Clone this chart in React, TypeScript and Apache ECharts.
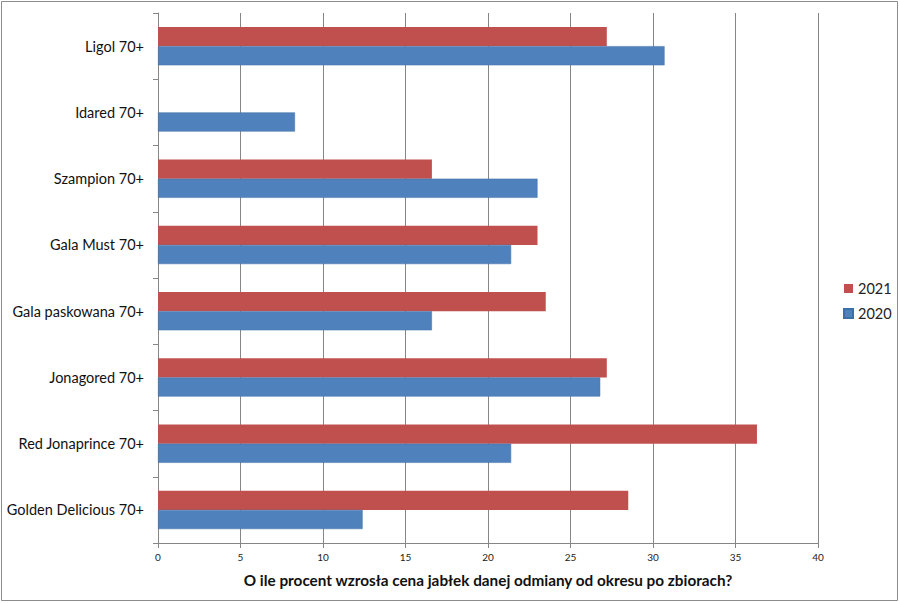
import React, { useEffect, useRef } from "react";
import * as echarts from "echarts";

const categories = [
  "Golden Delicious 70+",
  "Red Jonaprince 70+",
  "Jonagored 70+",
  "Gala paskowana 70+",
  "Gala Must 70+",
  "Szampion 70+",
  "Idared 70+",
  "Ligol 70+",
];
const values2020 = [12.4, 21.4, 26.8, 16.6, 21.4, 23.0, 8.3, 30.7];
const values2021: (number | null)[] = [28.5, 36.3, 27.2, 23.5, 23.0, 16.6, null, 27.2];
const xTicks = { min: 0, max: 40, interval: 5 };
const axisTitle = "O ile procent wzrosła cena jabłek danej odmiany od okresu po zbiorach?";

export default function App() {
  const ref = useRef<HTMLDivElement>(null);
  useEffect(() => {
    if (!ref.current) return;
    const chart = echarts.init(ref.current, null, { renderer: "svg" });
    const font = "Lato, 'Open Sans', sans-serif";
    chart.setOption({
      animation: false,
      backgroundColor: "#ffffff",
      textStyle: { fontFamily: font },
      graphic: [
        {
          type: "rect",
          shape: { x: 1.5, y: 1.5, width: 896, height: 599 },
          style: { fill: "none", stroke: "#8c8c8c", lineWidth: 1 },
          silent: true,
        },
      ],
      legend: {
        orient: "vertical",
        left: 838,
        top: 276,
        itemWidth: 9,
        itemHeight: 9,
        itemGap: 10,
        icon: "rect",
        data: ["2021", "2020"],
        textStyle: { fontSize: 14.5, color: "#222", fontFamily: font },
      },
      grid: { left: 158, right: 82, top: 13, bottom: 60, containLabel: false },
      xAxis: {
        type: "value",
        min: xTicks.min,
        max: xTicks.max,
        interval: xTicks.interval,
        name: axisTitle,
        nameLocation: "middle",
        nameGap: 29,
        nameTextStyle: { fontSize: 15.3, fontWeight: "bold", color: "#111", fontFamily: font },
        axisLine: { show: true, lineStyle: { color: "#868686" } },
        axisTick: { show: true, length: 5, inside: false, lineStyle: { color: "#868686" } },
        axisLabel: { fontSize: 10, color: "#222", margin: 9, fontFamily: font },
        splitLine: { show: true, lineStyle: { color: "#868686", width: 1 } },
      },
      yAxis: {
        type: "category",
        data: categories,
        axisLine: { show: true, lineStyle: { color: "#868686" } },
        axisTick: { show: true, length: 5, lineStyle: { color: "#868686" } },
        axisLabel: { fontSize: 14.5, color: "#111", margin: 14, fontFamily: font },
        splitLine: { show: false },
      },
      series: [
        {
          name: "2021",
          type: "bar",
          data: values2021,
          itemStyle: { color: "#C0504D" },
          barGap: "0%",
          barCategoryGap: "42%",
        },
        {
          name: "2020",
          type: "bar",
          data: values2020,
          itemStyle: { color: "#4F81BD", borderColor: "#3E6EA8", borderWidth: 0.5 },
          barGap: "0%",
          barCategoryGap: "42%",
        },
      ],
    });
    return () => chart.dispose();
  }, []);
  return (
    <div
      ref={ref}
      style={{ position: "absolute", left: 0, top: 0, width: 900, height: 603 }}
    />
  );
}
